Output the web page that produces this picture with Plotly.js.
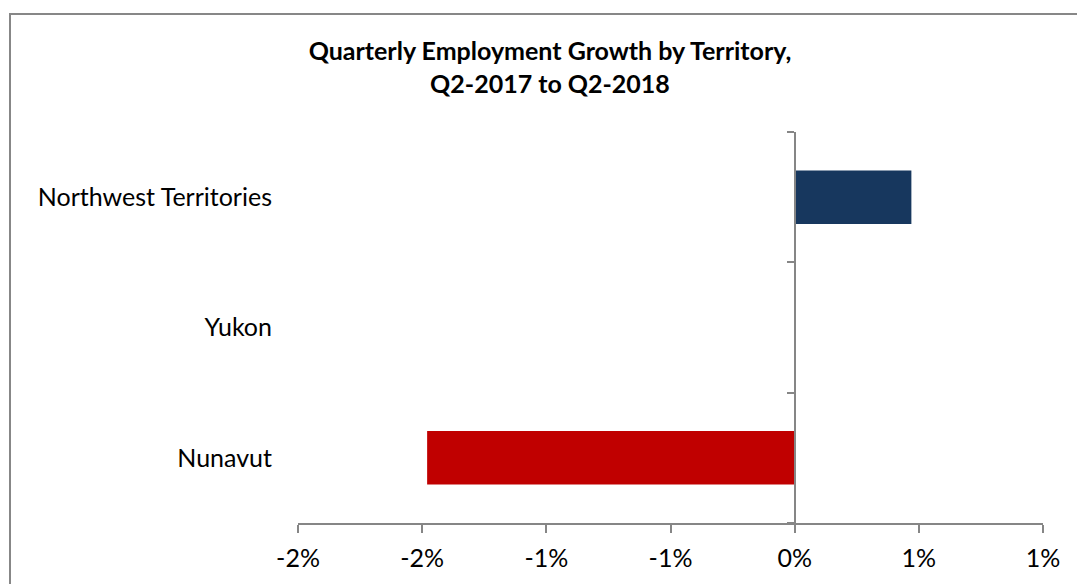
<!DOCTYPE html>
<html>
<head>
<meta charset="utf-8">
<script src="https://cdn.plot.ly/plotly-3.0.1.min.js"></script>
<style>
  html, body { margin: 0; padding: 0; background: #ffffff; }
  #frame { position: absolute; left: 9px; top: 13px; width: 1100px; height: 600px;
           border-left: 2px solid #878787; border-top: 2px solid #878787; }
  #chart { position: absolute; left: 0; top: 0; width: 1077px; height: 584px; }
</style>
</head>
<body>
<div id="frame"></div>
<div id="chart"></div>
<script>
// Data (bottom-to-top order for a category y-axis)
const territories = ['Nunavut', 'Yukon', 'Northwest Territories'];
const growth = [-0.0148, 0.0, 0.0047];
const barColors = ['#C00000', '#1F497D', '#17375E'];
const tickValues = [-0.02, -0.015, -0.01, -0.005, 0, 0.005, 0.01];
const tickLabels = ['-2%', '-2%', '-1%', '-1%', '0%', '1%', '1%'];
const chartTitle = 'Quarterly Employment Growth by Territory,<br>Q2-2017 to Q2-2018';

const FONT = 'Lato, Carlito, Calibri, "Open Sans", sans-serif';
const AXIS_GRAY = '#868686';

const traces = [
  {
    type: 'bar',
    orientation: 'h',
    y: territories,
    x: growth,
    marker: { color: barColors, line: { width: 0 } },
    hoverinfo: 'y+x',
    yaxis: 'y'
  },
  {
    type: 'scatter',
    mode: 'markers',
    y: territories,
    x: territories.map(() => 0),
    marker: { opacity: 0, size: 1 },
    hoverinfo: 'skip',
    showlegend: false,
    yaxis: 'y2'
  }
];

const layout = {
  width: 1077,
  height: 584,
  margin: { l: 298, r: 34, t: 132, b: 61 },
  paper_bgcolor: 'rgba(0,0,0,0)',
  plot_bgcolor: 'rgba(0,0,0,0)',
  showlegend: false,
  bargap: 0.59,
  font: { family: FONT, color: '#000000', size: 25 },
  title: {
    text: chartTitle,
    font: { family: FONT, size: 25, color: '#000000', weight: 'bold' },
    xref: 'container', x: 550 / 1077, xanchor: 'center',
    yref: 'container', y: 1 - 60 / 584, yanchor: 'top'
  },
  xaxis: {
    range: [-0.02, 0.01],
    tickvals: tickValues,
    ticktext: tickLabels,
    showgrid: false,
    zeroline: false,
    showline: true,
    linecolor: AXIS_GRAY,
    linewidth: 2,
    ticks: 'outside',
    ticklen: 8,
    tickwidth: 2,
    tickcolor: AXIS_GRAY,
    ticklabelstandoff: 4,
    tickfont: { family: FONT, size: 25, color: '#000000' },
    fixedrange: true
  },
  yaxis: {
    type: 'category',
    categoryorder: 'array',
    categoryarray: territories,
    range: [-0.5, 2.5],
    showgrid: false,
    zeroline: false,
    showline: false,
    ticks: 'outside',
    ticklen: 20,
    tickcolor: 'rgba(0,0,0,0)',
    tickfont: { family: FONT, size: 25, color: '#000000' },
    fixedrange: true
  },
  yaxis2: {
    type: 'category',
    categoryorder: 'array',
    categoryarray: territories,
    range: [-0.5, 2.5],
    overlaying: 'y',
    anchor: 'free',
    position: 2 / 3,
    side: 'left',
    showgrid: false,
    zeroline: false,
    showline: true,
    linecolor: AXIS_GRAY,
    linewidth: 2,
    ticks: 'outside',
    tickson: 'boundaries',
    ticklen: 7,
    tickwidth: 2,
    tickcolor: AXIS_GRAY,
    showticklabels: false,
    fixedrange: true
  }
};

Plotly.newPlot('chart', traces, layout, { displayModeBar: false, staticPlot: true });
</script>
</body>
</html>
